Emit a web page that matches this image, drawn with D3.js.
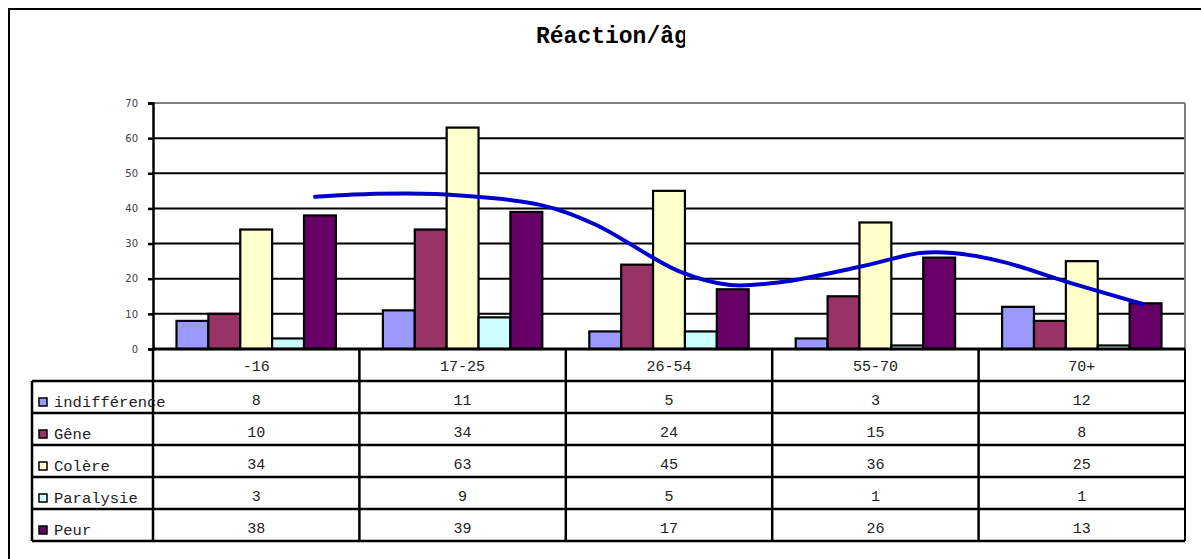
<!DOCTYPE html>
<html>
<head>
<meta charset="utf-8">
<script src="https://cdn.jsdelivr.net/npm/d3@7"></script>
<style>
  body { margin: 0; background: white; }
  svg { display: block; }
</style>
</head>
<body>
<div id="chart"></div>
<script>
// chart data
var categories = ['-16', '17-25', '26-54', '55-70', '70+']
var series = ['indifférence', 'Gêne', 'Colère', 'Paralysie', 'Peur']
var indifference = [8, 11, 5, 3, 12]
var gene = [10, 34, 24, 15, 8]
var colere = [34, 63, 45, 36, 25]
var paralysie = [3, 9, 5, 1, 1]
var peur = [38, 39, 17, 26, 13]
var values = [indifference, gene, colere, paralysie, peur]
var y_ticks = [0, 10, 20, 30, 40, 50, 60, 70]
// smoothed curve: position in categories, value
var curve_pos = [0.785, 1.05, 1.366, 1.875, 2.14, 2.553, 2.795, 3.038, 3.425, 3.716, 3.876, 4.118, 4.428, 4.796]
var curve_val = [43.3, 44.1, 44.1, 41, 35.5, 22, 18.2, 19, 23.4, 27.3, 27.3, 24.8, 19.1, 12.8]

var colors = ['#9999ff', '#993366', '#ffffcc', '#ccffff', '#660066']
var mono = '"Liberation Mono", "Courier New", monospace'

var width = 1201, height = 559
var plot_left = 153, plot_right = 1185, plot_top = 103, plot_bottom = 349
var row_h = 32, table_left = 32

var svg = d3.select('#chart')
    .append('svg')
    .attr('width', width)
    .attr('height', height)

// outer frame
svg.append('rect')
    .attr('x', 9).attr('y', 9)
    .attr('width', 1200).attr('height', 560)
    .attr('fill', 'none')
    .attr('stroke', 'black')
    .attr('stroke-width', 2)

// title, cut off like the original
svg.append('clipPath').attr('id', 'title-clip')
    .append('rect').attr('x', 0).attr('y', 0).attr('width', 685).attr('height', 80)
svg.append('text')
    .attr('x', 536).attr('y', 43)
    .attr('clip-path', 'url(#title-clip)')
    .attr('font-family', mono)
    .attr('font-weight', 'bold')
    .attr('font-size', 23)
    .text('Réaction/âge')

var x = d3.scaleBand().domain(categories).range([plot_left, plot_right]).padding(0)
var cat_w = x.bandwidth()
var xs = d3.scaleBand().domain(series).range([23.5, cat_w - 23.5]).padding(0)
var xlin = d3.scaleLinear().domain([0, categories.length]).range([plot_left, plot_right])
var y = d3.scaleLinear().domain([0, 70]).range([plot_bottom, plot_top])

// gridlines
svg.append('g').selectAll('line')
    .data(y_ticks.filter(d => d > 0))
    .enter()
    .append('line')
    .attr('x1', plot_left).attr('x2', plot_right)
    .attr('y1', d => y(d)).attr('y2', d => y(d))
    .attr('stroke', d => d == 70 ? '#808080' : 'black')
    .attr('stroke-width', 2)

// right border of plot
svg.append('line')
    .attr('x1', plot_right).attr('x2', plot_right)
    .attr('y1', plot_top).attr('y2', plot_bottom)
    .attr('stroke', '#808080').attr('stroke-width', 2)

// bars
series.forEach((s, si) => {
    svg.append('g').selectAll('rect')
        .data(values[si])
        .enter()
        .append('rect')
        .attr('x', (d, i) => x(categories[i]) + xs(s))
        .attr('y', d => y(d))
        .attr('width', xs.bandwidth())
        .attr('height', d => y(0) - y(d))
        .attr('fill', colors[si])
        .attr('stroke', 'black')
        .attr('stroke-width', 2.2)
})

// y axis
var y_axis = svg.append('g')
    .attr('transform', `translate(${plot_left},0)`)
    .call(d3.axisLeft(y).tickValues(y_ticks).tickSize(5).tickPadding(10))
y_axis.select('.domain').attr('stroke-width', 2.5)
y_axis.selectAll('.tick line').attr('stroke-width', 2.5)
y_axis.selectAll('.tick text')
    .attr('font-family', '"DejaVu Sans", sans-serif')
    .attr('font-size', 10)
    .attr('fill', '#404040')

// smoothed line
var line = d3.line()
    .x((d, i) => xlin(curve_pos[i]))
    .y(d => y(d))
    .curve(d3.curveCatmullRom)
svg.append('path')
    .datum(curve_val)
    .attr('d', line)
    .attr('fill', 'none')
    .attr('stroke', '#0000cc')
    .attr('stroke-width', 4)
    .attr('stroke-linecap', 'round')

// data table
var table = svg.append('g')
var table_bottom = plot_bottom + row_h * (series.length + 1)

// horizontal rules
table.append('line')
    .attr('x1', plot_left).attr('x2', plot_right)
    .attr('y1', plot_bottom).attr('y2', plot_bottom)
    .attr('stroke', 'black').attr('stroke-width', 3)
for (var r = 1; r <= series.length + 1; r++) {
    table.append('line')
        .attr('x1', table_left).attr('x2', plot_right)
        .attr('y1', plot_bottom + r * row_h).attr('y2', plot_bottom + r * row_h)
        .attr('stroke', 'black').attr('stroke-width', 2.5)
}
// vertical rules
table.append('line')
    .attr('x1', table_left).attr('x2', table_left)
    .attr('y1', plot_bottom + row_h).attr('y2', table_bottom)
    .attr('stroke', 'black').attr('stroke-width', 2.5)
categories.forEach((c, i) => {
    table.append('line')
        .attr('x1', x(c)).attr('x2', x(c))
        .attr('y1', plot_bottom).attr('y2', table_bottom)
        .attr('stroke', 'black').attr('stroke-width', 2.5)
})
table.append('line')
    .attr('x1', plot_right).attr('x2', plot_right)
    .attr('y1', plot_bottom).attr('y2', table_bottom)
    .attr('stroke', 'black').attr('stroke-width', 2)

// header
table.selectAll('.head')
    .data(categories)
    .enter()
    .append('text')
    .attr('x', d => x(d) + cat_w / 2)
    .attr('y', plot_bottom + 22)
    .attr('text-anchor', 'middle')
    .attr('font-family', mono)
    .attr('font-size', 15)
    .attr('fill', '#222')
    .text(d => d)

// rows
series.forEach((s, si) => {
    var top = plot_bottom + row_h * (si + 1)
    table.append('rect')
        .attr('x', 39).attr('y', top + 17)
        .attr('width', 8).attr('height', 8)
        .attr('fill', colors[si])
        .attr('stroke', 'black').attr('stroke-width', 1.5)
    table.append('text')
        .attr('x', 54).attr('y', top + 26)
        .attr('font-family', mono)
        .attr('font-size', 15.5)
        .attr('fill', '#222')
        .text(s)
    table.selectAll('.v' + si)
        .data(values[si])
        .enter()
        .append('text')
        .attr('x', (d, i) => x(categories[i]) + cat_w / 2)
        .attr('y', top + 24)
        .attr('text-anchor', 'middle')
        .attr('font-family', mono)
        .attr('font-size', 15)
        .attr('fill', '#222')
        .text(d => d)
})
</script>
</body>
</html>
